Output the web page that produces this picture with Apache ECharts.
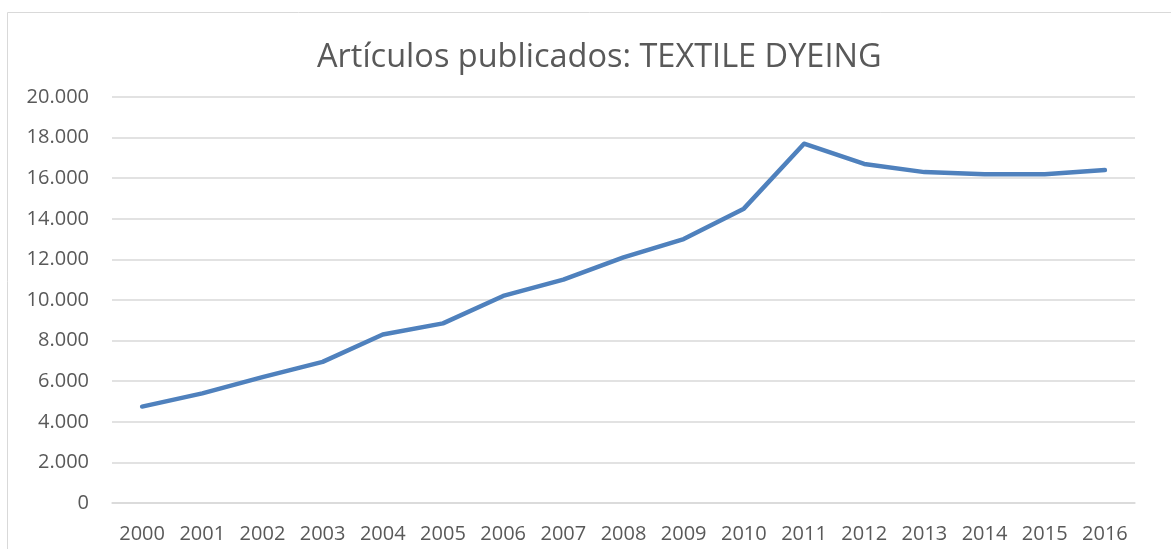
<!DOCTYPE html>
<html>
<head>
<meta charset="utf-8">
<script src="https://cdn.jsdelivr.net/npm/echarts@6/dist/echarts.min.js"></script>
<style>
  html, body { margin: 0; padding: 0; background: #fff; }
  #chart { width: 1171px; height: 549px; }
</style>
</head>
<body>
<div id="chart"></div>
<script>
// datos
const years = ["2000", "2001", "2002", "2003", "2004", "2005", "2006", "2007", "2008",
  "2009", "2010", "2011", "2012", "2013", "2014", "2015", "2016"];
const articles = [4750, 5400, 6200, 6950, 8300, 8850, 10200, 11000, 12100,
  13000, 14500, 17700, 16700, 16300, 16200, 16200, 16400];
const yTicks = [0, 2000, 4000, 6000, 8000, 10000, 12000, 14000, 16000, 18000, 20000];

// separador de miles con punto
const fmt = (v) => String(v).replace(/\B(?=(\d{3})+(?!\d))/g, ".");

const myChart = echarts.init(document.getElementById("chart"));

const options = {
  animation: false,
  textStyle: { fontFamily: "Open Sans, Noto Sans, sans-serif" },
  // marco exterior del gráfico
  graphic: [{
    type: "rect",
    shape: { x: 7.5, y: 12.5, width: 1200, height: 600 },
    style: { fill: "none", stroke: "#d9d9d9", lineWidth: 1 },
    silent: true,
  }],
  title: {
    text: "Artículos publicados: TEXTILE DYEING",
    left: 312,
    top: 36,
    textStyle: { color: "#595959", fontSize: 32.5, fontWeight: "normal" },
  },
  grid: { left: 112, right: 36, top: 97, bottom: 46 },
  xAxis: {
    type: "category",
    data: years,
    boundaryGap: true,
    axisLine: { lineStyle: { color: "#d9d9d9", width: 1.5 } },
    axisTick: { show: false },
    axisLabel: { color: "#595959", fontSize: 20, margin: 21 },
  },
  yAxis: {
    type: "value",
    min: yTicks[0],
    max: yTicks[yTicks.length - 1],
    interval: yTicks[1] - yTicks[0],
    axisLine: { show: false },
    axisTick: { show: false },
    axisLabel: { color: "#595959", fontSize: 20, margin: 23, formatter: fmt },
    splitLine: { lineStyle: { color: "#d9d9d9", width: 1.5 } },
  },
  series: [{
    type: "line",
    data: articles,
    showSymbol: false,
    lineStyle: { color: "#4f81bd", width: 4.5, cap: "round", join: "round" },
  }],
};

myChart.setOption(options);
</script>
</body>
</html>
